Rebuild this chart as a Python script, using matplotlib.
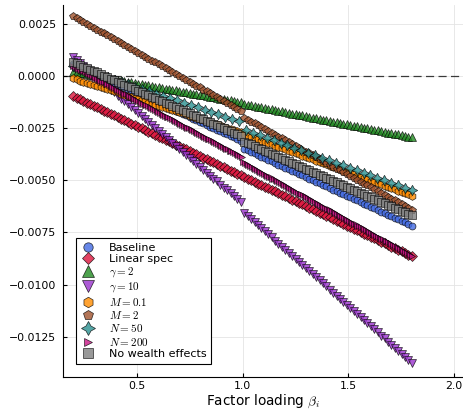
import numpy as np
import matplotlib
matplotlib.use("Agg")
import matplotlib.pyplot as plt

plt.rcParams['font.family'] = ['DejaVu Sans']
plt.rcParams['mathtext.fontset'] = 'cm'

# ---------------- data (values in units of 1e-5) ----------------
beta_100 = np.linspace(0.2, 1.8, 100)
beta_50 = np.linspace(0.2, 1.8, 50)
beta_200 = np.linspace(0.2, 1.8, 200)

baseline = [57, 50, 42, 35, 27, 20, 12, 5, -3, -10, -18, -25, -33, -40, -48, -55, -63, -70, -78, -85,
            -93, -100, -108, -115, -123, -130, -138, -145, -153, -160, -168, -175, -183, -190, -198, -205,
            -213, -220, -228, -235, -243, -250, -258, -265, -273, -280, -288, -295, -303, -310,
            -350, -357, -365, -372, -380, -387, -395, -402, -410, -417, -425, -432, -440, -447, -455, -462,
            -470, -477, -485, -492, -500, -507, -515, -522, -530, -537, -545, -552, -560, -567, -575, -582,
            -590, -597, -605, -612, -620, -627, -635, -642, -650, -657, -665, -672, -680, -687, -695, -702,
            -710, -717]

linear_spec = [-97, -105, -113, -120, -128, -136, -144, -151, -159, -167, -175, -182, -190, -198, -206, -213,
               -221, -229, -237, -244, -252, -260, -268, -275, -283, -291, -299, -306, -314, -322, -330, -337,
               -345, -353, -361, -368, -376, -384, -392, -399, -407, -415, -423, -430, -438, -446, -454, -461,
               -469, -477, -485, -492, -500, -508, -516, -523, -531, -539, -547, -554, -562, -570, -578, -585,
               -593, -601, -609, -616, -624, -632, -640, -647, -655, -663, -671, -678, -686, -694, -702, -709,
               -717, -725, -733, -740, -748, -756, -764, -771, -779, -787, -795, -802, -810, -818, -826, -833,
               -841, -849, -857, -864]

gamma2 = [20, 17, 14, 11, 8, 5, 2, -1, -4, -7, -10, -13, -16, -19, -22, -25, -28, -31, -34, -37,
          -40, -43, -46, -49, -52, -55, -58, -61, -64, -67, -70, -73, -76, -79, -82, -85, -88, -91, -94, -97,
          -100, -103, -106, -109, -112, -115, -118, -121, -124, -127,
          -135, -138, -142, -145, -148, -151, -155, -158, -161, -164, -168, -171, -174, -177, -181, -184,
          -187, -190, -194, -197, -200, -203, -207, -210, -213, -216, -220, -223, -226, -229, -233, -236,
          -239, -242, -246, -249, -252, -255, -259, -262, -265, -268, -272, -275, -278, -281, -285, -288,
          -291, -294]

gamma10 = [90, 76, 62, 47, 33, 19, 5, -9, -24, -38, -52, -66, -80, -95, -109, -123, -137, -151, -166, -180,
           -194, -208, -222, -237, -251, -265, -279, -293, -308, -322, -336, -350, -364, -379, -393,
           -407, -421, -435, -450, -464, -478, -492, -506, -521, -535, -549, -563, -577, -592, -606,
           -657, -672, -686, -701, -716, -730, -745, -760, -774, -789, -804, -818, -833, -848, -862,
           -877, -892, -906, -921, -936, -950, -965, -980, -994, -1009, -1024, -1038, -1053, -1068, -1082,
           -1097, -1112, -1126, -1141, -1156, -1170, -1185, -1200, -1214, -1229, -1244, -1258,
           -1273, -1288, -1302, -1317, -1332, -1346, -1361, -1376]

m01 = [-12, -17, -23, -28, -33, -38, -44, -49, -54, -59, -65, -70, -75, -80, -86, -91, -96, -101, -107, -112,
       -117, -122, -128, -133, -138, -143, -149, -154, -159, -164, -170, -175, -180, -185, -191, -196,
       -201, -206, -212, -217, -222, -227, -233, -238, -243, -248, -254, -259, -264, -269,
       -280, -286, -292, -298, -304, -310, -316, -322, -328, -334, -340, -346, -352, -358, -364, -370,
       -376, -382, -388, -394, -400, -406, -412, -418, -424, -430, -436, -442, -448, -454, -460, -466,
       -472, -478, -484, -490, -496, -502, -508, -514, -520, -526, -532, -538, -544, -550, -556, -562,
       -568, -574]

m2 = [286, 277, 267, 258, 249, 240, 230, 221, 212, 203, 193, 184, 175, 166, 156, 147, 138, 129, 119, 110,
      101, 92, 82, 73, 64, 55, 45, 36, 27, 18, 8, -1, -10, -19, -29, -38, -47, -56, -66, -75,
      -84, -93, -103, -112, -121, -130, -140, -149, -158, -167,
      -201, -210, -219, -228, -237, -246, -255, -264, -273, -282, -291, -300, -309, -318, -327, -336,
      -345, -354, -363, -372, -381, -390, -399, -408, -417, -426, -435, -444, -453, -462, -471, -480,
      -489, -498, -507, -516, -525, -534, -543, -552, -561, -570, -579, -588, -597, -606, -615, -624,
      -633, -642]

n50 = [47, 36, 25, 14, 3, -8, -19, -30, -41, -52, -63, -74, -85, -96, -107, -118, -129, -140, -151, -162,
       -173, -184, -195, -206, -217,
       -261, -273, -285, -297, -309, -321, -333, -345, -357, -369, -381, -393, -405, -417, -429, -441,
       -453, -465, -477, -489, -501, -513, -525, -537, -549]

n200 = [47, 43, 38, 34, 29, 25, 21, 16, 12, 7, 3, -1, -6, -10, -15, -19, -23, -28, -32, -37,
        -41, -45, -50, -54, -59, -63, -67, -72, -76, -81, -85, -89, -94, -98, -103, -107, -111, -116, -120, -125,
        -129, -133, -138, -142, -147, -151, -155, -160, -164, -169, -173, -177, -182, -186, -191,
        -195, -199, -204, -208, -213, -217, -221, -226, -230, -235, -239, -243, -248, -252, -257,
        -261, -265, -270, -274, -279, -283, -287, -292, -296, -301, -305, -309, -314, -318, -323,
        -327, -331, -336, -340, -345, -349, -353, -358, -362, -367, -371, -375, -380, -384, -389,
        -415, -420, -424, -429, -433, -438, -442, -447, -451, -456, -460, -465, -469, -474, -478, -483,
        -487, -492, -496, -501, -505, -510, -514, -519, -523, -528, -532, -537, -541, -546, -550, -555,
        -559, -564, -568, -573, -577, -582, -586, -591, -595, -600, -604, -609, -613, -618, -622, -627,
        -631, -636, -640, -645, -649, -654, -658, -663, -667, -672, -676, -681, -685, -690, -694, -699,
        -703, -708, -712, -717, -721, -726, -730, -735, -739, -744, -748, -753, -757, -762, -766, -771,
        -775, -780, -784, -789, -793, -798, -802, -807, -811, -816, -820, -825, -829, -834, -838, -843,
        -847, -852, -856, -861]

no_wealth = [66, 59, 52, 44, 37, 30, 23, 16, 8, 1, -6, -13, -20, -28, -35, -42, -49, -56, -64, -71,
             -78, -85, -92, -100, -107, -114, -121, -128, -136, -143, -150, -157, -164, -172, -179,
             -186, -193, -200, -208, -215, -222, -229, -236, -244, -251, -258, -265, -272, -280, -287,
             -315, -322, -329, -337, -344, -351, -358, -365, -373, -380, -387, -394, -401, -409, -416,
             -423, -430, -437, -445, -452, -459, -466, -473, -481, -488, -495, -502, -509, -517, -524,
             -531, -538, -545, -553, -560, -567, -574, -581, -589, -596, -603, -610, -617, -625, -632,
             -639, -646, -653, -661, -668]

labels = ["Baseline", "Linear spec", r"$\gamma = 2$", r"$\gamma = 10$", r"$M = 0.1$",
          r"$M = 2$", r"$N = 50$", r"$N = 200$", "No wealth effects"]
xs = [beta_100, beta_100, beta_100, beta_100, beta_100, beta_100, beta_50, beta_200, beta_100]
ys = [baseline, linear_spec, gamma2, gamma10, m01, m2, n50, n200, no_wealth]
scale = 1e-5

colors = ["#4169E1", "#DC143C", "#228B22", "#9932CC", "#FF8C00", "#A0522D", "#2A9090", "#C71585", "#808080"]
markers = ["o", "D", "^", "v", "h", "p", (4, 1, 0), ">", "s"]
msizes = [5.0, 4.6, 6.2, 6.2, 5.6, 5.8, 7.5, 4.2, 5.8]

W, H = 464, 416
fig = plt.figure(figsize=(W / 100, H / 100), dpi=100)
ax = fig.add_axes([63 / W, 1 - 377 / H, (464 - 63) / W, (377 - 5) / H])

ax.axhline(0, color="black", alpha=0.75, lw=0.9, dashes=(6.5, 3.5), zorder=1)

for x, y, lab, c, mk, ms in zip(xs, ys, labels, colors, markers, msizes):
    ax.plot(x, np.array(y) * scale, linestyle="none", marker=mk, markersize=ms,
            markerfacecolor=c, markeredgecolor="black", markeredgewidth=0.5,
            alpha=0.8, label=lab, zorder=2)

ax.set_xlim(0.152, 2.046)
ax.set_ylim(-0.014425, 0.00339)
ax.set_xticks([0.5, 1.0, 1.5, 2.0])
ax.set_xticklabels(["0.5", "1.0", "1.5", "2.0"])
yt = [0.0025, 0.0, -0.0025, -0.005, -0.0075, -0.01, -0.0125]
ax.set_yticks(yt)
ax.set_yticklabels(["0.0025", "0.0000", "\u22120.0025", "\u22120.0050", "\u22120.0075",
                    "\u22120.0100", "\u22120.0125"])
ax.grid(True, color="#e4e4e4", lw=0.6)
ax.set_axisbelow(True)
for s in ["top", "right"]:
    ax.spines[s].set_visible(False)
for s in ["left", "bottom"]:
    ax.spines[s].set_linewidth(0.8)
ax.tick_params(direction="in", length=3, width=0.8, labelsize=7.8, colors="black")
ax.tick_params(axis="y", pad=5)
ax.tick_params(axis="x", pad=3)

ax.set_xlabel(r"Factor loading $\beta_i$", fontsize=9.8, labelpad=1)

leg = ax.legend(loc="lower left", bbox_to_anchor=(13 / 401, 13 / 372), borderaxespad=0,
                fontsize=8, frameon=True, fancybox=False, edgecolor="black", framealpha=1,
                markerscale=1.35, labelspacing=0.12, handlelength=1.2, handletextpad=1.3,
                borderpad=0.45)
leg.get_frame().set_linewidth(0.8)

fig.savefig("out.png", dpi=100)
